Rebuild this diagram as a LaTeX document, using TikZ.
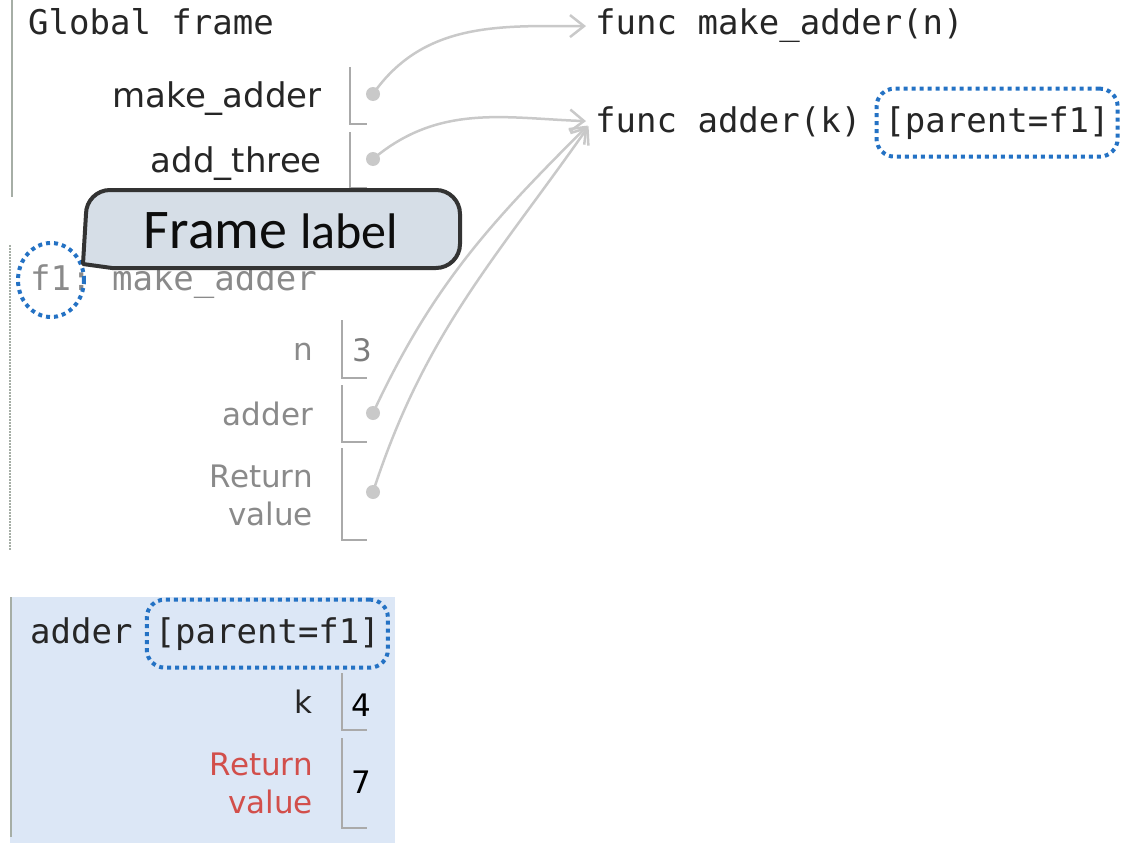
\documentclass[tikz,border=0pt]{standalone}
\usepackage{fontspec}
\setmainfont{DejaVu Sans}
\setmonofont{DejaVu Sans Mono}
\newfontfamily\calloutfont{Carlito}
\usetikzlibrary{arrows.meta,positioning}

\definecolor{framebar}{HTML}{A6AEA6}
\definecolor{boxline}{HTML}{AAAAAA}
\definecolor{ptrgrey}{HTML}{C9C9C9}
\definecolor{txtdark}{HTML}{262626}
\definecolor{txtgrey}{HTML}{8A8A8A}
\definecolor{retred}{HTML}{D24F4B}
\definecolor{hlblue}{HTML}{2472C4}
\definecolor{activebg}{HTML}{DCE7F6}
\definecolor{bubblebg}{HTML}{D6DEE7}

\begin{document}
\begin{tikzpicture}[x=1pt, y=1pt, >={Straight Barb[length=14pt,width=22pt]}, shorten >=6pt,
	mono/.style={font=\fontsize{34}{40}\selectfont\ttfamily, text=txtdark, inner sep=0pt},
	varname/.style={font=\fontsize{34}{40}\selectfont, text=txtdark, inner sep=0pt, anchor=base east},
	localname/.style={font=\fontsize{31}{38}\selectfont, text=txtgrey, inner sep=0pt, anchor=base east},
	val/.style={font=\fontsize{31}{38}\selectfont, inner sep=0pt},
	binding/.style={draw=boxline, line width=2pt},
	ptr/.style={circle, fill=ptrgrey, inner sep=0pt, minimum size=14pt},
	link/.style={color=ptrgrey, line width=2.5pt},
	dotblue/.style={draw=hlblue, line width=4pt, dash pattern=on 4pt off 4pt},
	parentbox/.style={mono, dotblue, rounded corners=18pt, inner xsep=8pt, minimum height=68pt}]
	\useasboundingbox (0,0) rectangle (1135,-843);

	% Frames
	\fill [activebg] (10,-597) rectangle (395,-843);
	\draw [framebar, line width=2.5pt] (12,0) -- (12,-203);
	\draw [framebar, line width=1.5pt, dash pattern=on 1.5pt off 1.5pt] (10,-245) -- (10,-557);
	\draw [framebar, line width=2.5pt] (11,-597) -- (11,-843);

	% Global frame
	\node [mono, anchor=base west] (global) at (28,-35) {Global frame};
	\node [varname] (vmake)  at (322,-107) {make\_adder};
	\node [varname] (vthree) at (322,-172) {add\_three};
	\draw [binding] (350,-67) |- (373,-124);
	\draw [binding] (350,-132) |- (373,-188);
	\node [ptr] (dmake)  at (373,-94)  {};
	\node [ptr] (dthree) at (373,-159) {};

	% Objects
	\node [mono, anchor=base west, inner sep=3pt] (fmake)  at (592,-35)  {func make\_adder(n)};
	\node [mono, anchor=base west, inner sep=3pt] (fadder) at (592,-132) {func adder(k)};
	\node [parentbox, base right=10pt of fadder] (fparent) {[parent=f1]};

	% Frame f1
	\node [mono, text=txtgrey, anchor=base west] (f1head) at (30,-290) {f1: make\_adder};
	\draw [dotblue] (51,-280) ellipse [x radius=33, y radius=37];
	\node [localname] (vn)      at (313,-360) {n};
	\node [localname] (vadder)  at (313,-425) {adder};
	\node [localname] (vret)    at (313,-487) {Return};
	\node [localname] (vretval) at (313,-525) {value};
	\draw [binding] (342,-320) |- (373,-378);
	\draw [binding] (342,-385) |- (373,-442);
	\draw [binding] (342,-448) |- (373,-540);
	\node [val, text=txtgrey!90!black] (nval) at (362,-350) {3};
	\node [ptr] (dadder) at (373,-413) {};
	\node [ptr] (dret)   at (373,-492) {};

	% Frame adder
	\node [mono, anchor=base west] (ahead) at (30,-643) {adder};
	\node [parentbox, base right=12pt of ahead] (aparent) {[parent=f1]};
	\node [localname, text=txtdark] (vk)     at (313,-713) {k};
	\node [localname, text=retred]  (kret)   at (313,-775) {Return};
	\node [localname, text=retred]  (kretval) at (313,-813) {value};
	\draw [binding] (342,-673) |- (373,-730);
	\draw [binding] (342,-738) |- (373,-828);
	\node [val, text=black] (kval) at (361,-705) {4};
	\node [val, text=black] (rval) at (361,-782) {7};

	% Paths
	\path [->, link] (dmake.center)  edge [out=55, in=180]   (fmake.west)
	                 (dthree.center) edge [out=40, in=178]   (fadder.west)
	                 (dadder.center) edge [out=65, in=-135]  (fadder.west)
	                 (dret.center)   edge [out=72, in=-125]  (fadder.west);

	% Callout
	\draw [fill=bubblebg, draw=black!80, line width=4pt, line join=round]
		(83,-264) -- (86,-214) arc [start angle=180, end angle=90, radius=24]
		-- (436,-190) arc [start angle=90, end angle=0, radius=24]
		-- (460,-244) arc [start angle=0, end angle=-90, radius=24]
		-- (112,-268) -- cycle;
	\node [inner sep=0pt, anchor=base, text=black!95] (callout) at (271,-248)
		{\calloutfont\fontsize{56}{60}\selectfont Frame {\fontsize{50}{54}\selectfont label}};
\end{tikzpicture}
\end{document}
